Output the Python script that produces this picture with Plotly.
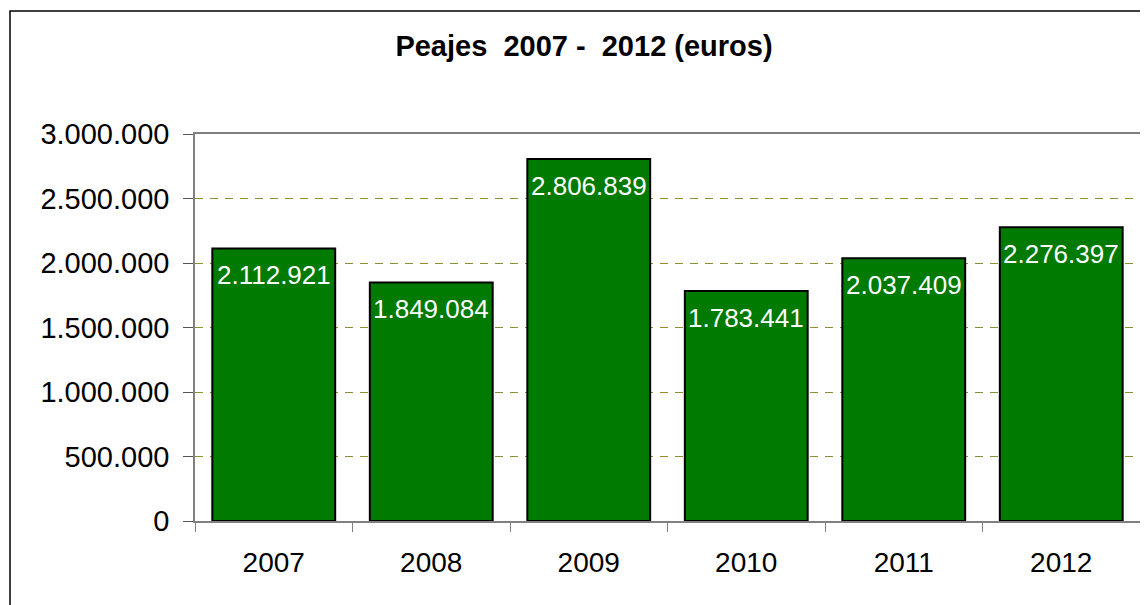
import plotly.graph_objects as go

years = ["2007", "2008", "2009", "2010", "2011", "2012"]
values = [2112921, 1849084, 2806839, 1783441, 2037409, 2276397]
title_text = "Peajes\u00a0\u00a02007\u00a0-\u00a0\u00a02012 (euros)"

def fmt(v):
    return f"{v:,}".replace(",", ".")

# page body has an 8px margin; the figure is sized to fill the rest of the window
W, H = 1140, 597
L, R, T, B = 187, 8, 126, 84

fig = go.Figure(
    go.Bar(
        x=years,
        y=values,
        width=0.78,
        marker=dict(color="#007A00", line=dict(color="black", width=2)),
        hoverinfo="skip",
    )
)

for i, v in enumerate(values):
    fig.add_annotation(
        x=i, y=v, xref="x", yref="y", text=fmt(v), showarrow=False,
        yanchor="top", yshift=-10,
        font=dict(color="white", size=26, family="Liberation Sans"),
    )

# outer frame
pw, ph = W - L - R, H - T - B
fig.add_shape(
    type="rect", xref="paper", yref="paper",
    x0=(2 - L) / pw, x1=(W + 20 - L) / pw,
    y0=(H - B - (H + 20)) / ph, y1=(H - B - 3) / ph,
    line=dict(color="black", width=1.5), fillcolor="rgba(0,0,0,0)", layer="below",
)

fig.update_layout(
    width=W, height=H,
    margin=dict(l=L, r=R, t=T, b=B, autoexpand=False),
    paper_bgcolor="white", plot_bgcolor="white",
    separators=",.",
    showlegend=False,
    font=dict(family="Liberation Sans", color="black"),
    title=dict(
        text=title_text, x=576 / W, xanchor="center", y=1 - 38 / H, yanchor="middle",
        xref="container", yref="container",
        font=dict(size=29, family="Liberation Sans", weight="bold", color="black"),
    ),
)

fig.update_xaxes(
    type="category", range=[-0.5, len(years) - 0.5], autorange=False, automargin=False,
    categoryorder="array", categoryarray=years,
    showgrid=False, showline=True, linecolor="#808080", linewidth=1.5,
    mirror=True, ticks="outside", ticklen=9, tickson="boundaries", tickcolor="#808080",
    tickangle=0, ticklabelstandoff=16,
    tickfont=dict(size=28, family="Liberation Sans", color="black"),
)
fig.update_yaxes(
    range=[0, 3000000], autorange=False, automargin=False, dtick=500000, tickformat=",d",
    showgrid=True, gridcolor="#8F8F30", griddash="8px,7px", gridwidth=1,
    zeroline=False, showline=True, linecolor="#808080", linewidth=1.5, mirror=True,
    ticks="outside", ticklen=10, tickcolor="#555555", ticklabelstandoff=8,
    tickfont=dict(size=29, family="Liberation Sans", color="black"),
)

fig.write_html("out.html")
